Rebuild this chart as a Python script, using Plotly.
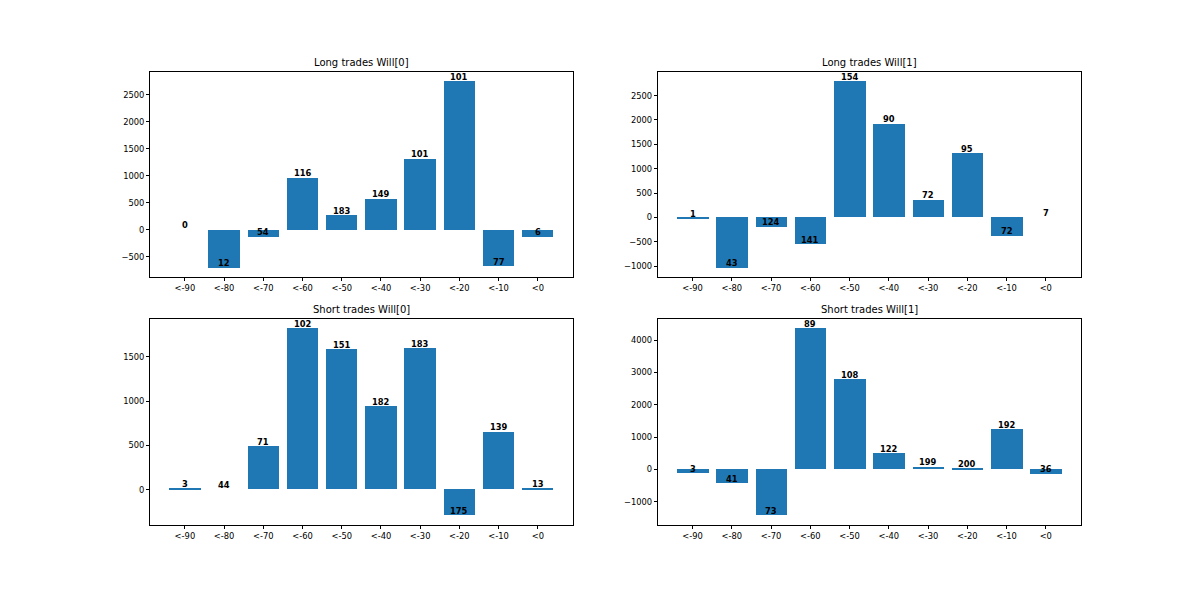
import plotly.graph_objects as go

categories = ["<-90", "<-80", "<-70", "<-60", "<-50", "<-40", "<-30", "<-20", "<-10", "<0"]

titles = ["Long trades Will[0]", "Long trades Will[1]", "Short trades Will[0]", "Short trades Will[1]"]

long_w0_values = [0, -704, -130, 957, 265, 574, 1315, 2747, -673, -130]
long_w0_counts = [0, 12, 54, 116, 183, 149, 101, 101, 77, 6]

long_w1_values = [-15, -1033, -191, -547, 2793, 1924, 363, 1314, -382, 0]
long_w1_counts = [1, 43, 124, 141, 154, 90, 72, 95, 72, 7]

short_w0_values = [10, 0, 486, 1817, 1584, 942, 1595, -294, 652, 10]
short_w0_counts = [3, 44, 71, 102, 151, 182, 183, 175, 139, 13]

short_w1_values = [-115, -424, -1424, 4353, 2786, 495, 80, 30, 1238, -136]
short_w1_counts = [3, 41, 73, 89, 108, 122, 199, 200, 192, 36]

ytick_steps = [500, 500, 500, 1000]

series = [
    (long_w0_values, long_w0_counts),
    (long_w1_values, long_w1_counts),
    (short_w0_values, short_w0_counts),
    (short_w1_values, short_w1_counts),
]

W, H = 1200, 600
OFF = 8  # page body margin offset
x_domains = [((150 - OFF) / W, (572.7 - OFF) / W), ((657.7 - OFF) / W, (1080.7 - OFF) / W)]
y_domains = [(1 - (277 - OFF) / H, 1 - (72 - OFF) / H), (1 - (525 - OFF) / H, 1 - (319.3 - OFF) / H)]

BLUE = "#1f77b4"
FONT = "DejaVu Sans"
TICK_SIZE = 8.33
TITLE_SIZE = 10

fig = go.Figure()
annotations = []
positions = list(range(len(categories)))

for i, (vals, cnts) in enumerate(series):
    row, col = divmod(i, 2)
    xa = "x" if i == 0 else f"x{i+1}"
    ya = "y" if i == 0 else f"y{i+1}"
    fig.add_trace(go.Bar(
        x=positions, y=vals, width=0.8, marker=dict(color=BLUE, line=dict(width=0)),
        xaxis=xa, yaxis=ya, showlegend=False, hoverinfo="skip",
    ))
    lo = min(min(vals), 0)
    hi = max(max(vals), 0)
    span = hi - lo
    yr = [lo - 0.05 * span, hi + 0.05 * span]
    axis_common = dict(
        showline=True, linecolor="black", linewidth=0.8, mirror=True,
        ticks="outside", ticklen=3, tickwidth=0.8, tickcolor="black",
        showgrid=False, zeroline=False,
        tickfont=dict(family=FONT, size=TICK_SIZE, color="black"),
    )
    layout_x = dict(axis_common, domain=list(x_domains[col]), range=[-0.89, 9.89],
                    tickmode="array", tickvals=positions, ticktext=categories,
                    anchor=ya)
    layout_y = dict(axis_common, domain=list(y_domains[row]), range=yr,
                    dtick=ytick_steps[i], tick0=0, anchor=xa)
    fig.layout[xa.replace("x", "xaxis")] = layout_x
    fig.layout[ya.replace("y", "yaxis")] = layout_y
    for p, v, c in zip(positions, vals, cnts):
        annotations.append(dict(
            x=p, y=v, xref=xa, yref=ya, text=f"<b>{c}</b>", showarrow=False,
            xanchor="center", yanchor="bottom", yshift=-2.5,
            font=dict(family=FONT, size=TICK_SIZE, color="black"),
        ))
    annotations.append(dict(
        x=(x_domains[col][0] + x_domains[col][1]) / 2, y=y_domains[row][1],
        xref="paper", yref="paper", text=titles[i], showarrow=False,
        xanchor="center", yanchor="bottom", yshift=2,
        font=dict(family=FONT, size=TITLE_SIZE, color="black"),
    ))

fig.update_layout(
    width=W, height=H, margin=dict(l=0, r=0, t=0, b=0),
    paper_bgcolor="white", plot_bgcolor="white",
    annotations=annotations, bargap=0,
)

fig.write_html("out.html")
